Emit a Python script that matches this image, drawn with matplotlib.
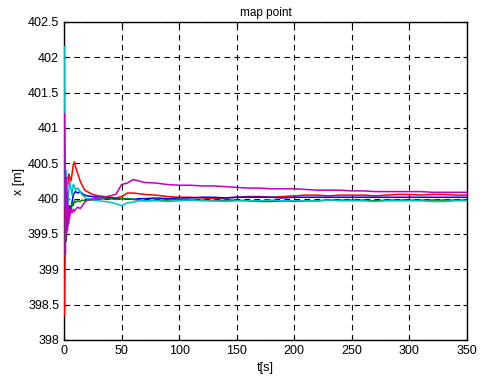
import matplotlib
matplotlib.use("Agg")
import matplotlib.pyplot as plt

plt.rcParams['font.family'] = ['Liberation Sans', 'DejaVu Sans']

t = [0.4, 0.8, 1.2, 1.6, 2, 2.5, 3, 3.5, 4, 5, 6, 7, 8, 9, 10, 12, 14, 16, 18, 20,
     25, 30, 35, 40, 45, 50, 55, 60, 65, 70, 80, 90, 100, 110, 120, 130, 140, 150,
     160, 170, 180, 190, 200, 210, 220, 230, 240, 250, 260, 270, 280, 290, 300, 310,
     320, 330, 340, 350]

red = [398.35, 399.0, 400.35, 399.9, 400.3, 400.15, 400.3, 400.2, 400.35, 400.3,
       400.25, 400.35, 400.48, 400.52, 400.45, 400.35, 400.25, 400.18, 400.12, 400.1,
       400.06, 400.04, 400.03, 400.02, 400.01, 400.03, 400.08, 400.08, 400.07, 400.06,
       400.05, 400.03, 400.02, 400.02, 400.01, 400.0, 400.01, 400.02, 400.03, 400.03,
       400.02, 400.03, 400.04, 400.05, 400.05, 400.04, 400.05, 400.05, 400.05, 400.04,
       400.05, 400.06, 400.06, 400.05, 400.06, 400.06, 400.05, 400.05]

blue = [400.5, 399.9, 400.2, 399.7, 399.95, 399.75, 399.85, 399.78, 399.8, 399.9,
        399.85, 399.95, 400.05, 400.08, 400.1, 400.08, 400.1, 400.07, 400.05, 400.04,
        400.03, 400.02, 400.02, 400.01, 400.0, 400.0, 400.0, 399.99, 400.0, 400.0,
        400.01, 400.0, 400.01, 400.01, 400.02, 400.02, 400.01, 400.02, 400.02, 400.02,
        400.02, 400.01, 400.02, 400.02, 400.02, 400.02, 400.02, 400.02, 400.02, 400.02,
        400.02, 400.02, 400.02, 400.02, 400.02, 400.02, 400.02, 400.02]

green = [399.7, 399.2, 399.6, 399.85, 399.4, 399.6, 399.55, 399.7, 399.65, 399.85,
         399.8, 399.95, 399.9, 399.97, 399.95, 399.97, 399.96, 399.98, 399.97, 399.98,
         399.98, 399.99, 400.0, 400.0, 399.99, 400.0, 400.0, 399.99, 399.98, 399.97,
         399.98, 399.98, 399.99, 399.98, 399.98, 399.97, 399.98, 399.98, 399.97, 399.96,
         399.96, 399.97, 399.96, 399.97, 399.97, 399.98, 399.98, 399.98, 399.98, 399.97,
         399.98, 399.98, 399.98, 399.98, 399.98, 399.98, 399.98, 399.98]

cyan = [402.15, 400.8, 399.9, 400.4, 399.85, 400.3, 400.0, 399.85, 400.1, 400.25,
        400.15, 400.05, 400.2, 400.18, 400.12, 400.15, 400.1, 400.05, 400.02, 400.0,
        399.98, 399.97, 399.96, 399.95, 399.93, 399.9, 399.94, 399.95, 399.97, 399.97,
        399.97, 399.96, 399.97, 399.98, 399.97, 399.97, 399.96, 399.97, 399.97, 399.97,
        399.98, 399.97, 399.97, 399.97, 399.97, 399.98, 399.97, 399.97, 399.97, 399.96,
        399.97, 399.97, 399.97, 399.97, 399.96, 399.96, 399.97, 399.97]

magenta = [401.2, 400.7, 399.2, 400.3, 399.5, 400.1, 399.6, 399.9, 399.7, 399.75,
           399.85, 399.8, 399.85, 399.82, 399.85, 399.88, 399.86, 399.9, 399.95, 399.98,
           400.0, 400.01, 400.02, 400.04, 400.06, 400.2, 400.22, 400.27, 400.25, 400.23,
           400.22, 400.2, 400.19, 400.19, 400.18, 400.18, 400.17, 400.16, 400.15, 400.15,
           400.14, 400.14, 400.14, 400.13, 400.12, 400.12, 400.12, 400.11, 400.11, 400.1,
           400.1, 400.1, 400.1, 400.1, 400.09, 400.09, 400.09, 400.09]

series = [(red, (1, 0, 0)), (blue, (0, 0, 1)), (green, (0, 0.5, 0)),
          (cyan, (0, 0.75, 0.75)), (magenta, (0.75, 0, 0.75))]

xticks = [0, 50, 100, 150, 200, 250, 300, 350]
yticks = [398, 398.5, 399, 399.5, 400, 400.5, 401, 401.5, 402, 402.5]
yticklabels = ['398', '398.5', '399', '399.5', '400', '400.5', '401', '401.5', '402', '402.5']

fig = plt.figure(figsize=(4.8, 3.81), dpi=100)
ax = fig.add_axes([64/480, 41/381, 403/480, 318/381])

for vals, col in series:
    ax.plot(t, vals, color=col, linewidth=1.1, zorder=3)

ax.set_xlim(0, 350)
ax.set_ylim(398, 402.5)
ax.set_xticks(xticks)
ax.set_yticks(yticks)
ax.set_yticklabels(yticklabels)
ax.grid(True, color='black', linestyle=(0, (5, 4)), linewidth=0.8)
ax.tick_params(direction='in', top=True, right=True, labelsize=9, length=3, width=0.8)
for s in ax.spines.values():
    s.set_linewidth(1.0)
ax.set_title('map point', fontsize=8.5, pad=4)
ax.set_xlabel('t[s]', fontsize=9, labelpad=4)
ax.set_ylabel('x [m]', fontsize=9, labelpad=2)

fig.savefig('out.png', dpi=100)
